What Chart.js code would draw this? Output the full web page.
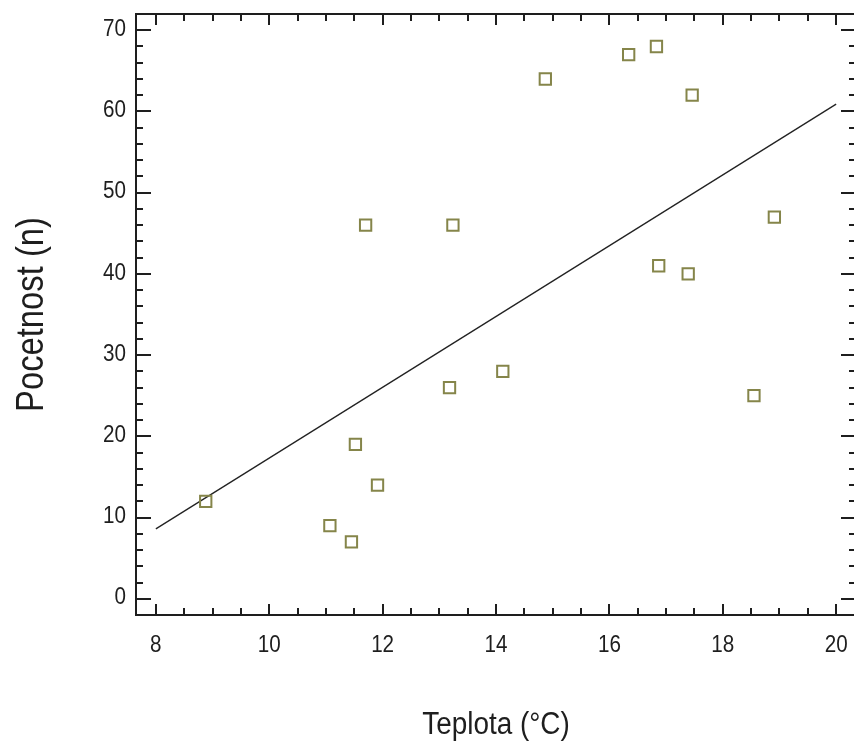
<!DOCTYPE html>
<html>
<head>
<meta charset="utf-8">
<title>Pocetnost vs. Teplota</title>
<script src="https://cdn.jsdelivr.net/npm/chart.js@4"></script>
<style>
  html, body { margin: 0; padding: 0; background: #fff; overflow: hidden; }
  #wrap { width: 866px; height: 742px; }
</style>
</head>
<body>
<div id="wrap"><canvas id="c" width="866" height="742"></canvas></div>
<script>
// Observations: temperature (°C) and count (n)
const temps  = [8.88, 11.07, 11.45, 11.52, 11.91, 11.70, 13.24, 13.18, 14.12, 14.87, 16.34, 16.83, 17.46, 16.87, 17.39, 18.91, 18.55];
const counts = [12, 9, 7, 19, 14, 46, 46, 26, 28, 64, 67, 68, 62, 41, 40, 47, 25];

// Fitted regression line end points
const fitX = [8, 20];
const fitY = [8.6, 60.9];

// Axis ticks
const xTicks = [8, 10, 12, 14, 16, 18, 20];
const yTicks = [0, 10, 20, 30, 40, 50, 60, 70];

const points = temps.map((t, i) => ({ x: t, y: counts[i] }));
const fitLine = fitX.map((t, i) => ({ x: t, y: fitY[i] }));

const INK = '#1e1e1e';
const FONT = '"Liberation Sans", Arial, sans-serif';

function squeezedText(ctx, text, x, y, size, sx, align, baseline, angle) {
  ctx.save();
  ctx.translate(x, y);
  if (angle) ctx.rotate(angle);
  ctx.scale(sx, 1);
  ctx.font = size + 'px ' + FONT;
  ctx.fillStyle = INK;
  ctx.textAlign = align;
  ctx.textBaseline = baseline;
  ctx.fillText(text, 0, 0);
  ctx.restore();
}

// Framed axes with inward ticks, labels and titles
const frameAxes = {
  id: 'frameAxes',
  afterDraw(chart) {
    const { ctx, chartArea: a, scales: { x, y } } = chart;
    ctx.save();
    ctx.strokeStyle = INK;
    ctx.lineWidth = 2;
    ctx.lineCap = 'butt';

    // box
    ctx.strokeRect(a.left, a.top, a.right - a.left, a.bottom - a.top);

    ctx.beginPath();
    // x ticks: majors every 2, minors every 0.5
    for (let v = xTicks[0]; v <= xTicks[xTicks.length - 1] + 1e-9; v += 0.5) {
      const px = Math.round(x.getPixelForValue(v));
      const major = xTicks.some(t => Math.abs(t - v) < 1e-9);
      const len = major ? 11 : 7;
      ctx.moveTo(px, a.bottom); ctx.lineTo(px, a.bottom - len);
      ctx.moveTo(px, a.top); ctx.lineTo(px, a.top + len);
    }
    // y ticks: majors every 10, minors every 2
    for (let v = yTicks[0]; v <= yTicks[yTicks.length - 1] + 1e-9; v += 2) {
      const py = Math.round(y.getPixelForValue(v));
      const major = yTicks.some(t => Math.abs(t - v) < 1e-9);
      const len = major ? 15 : 7;
      ctx.moveTo(a.left, py); ctx.lineTo(a.left + len, py);
      ctx.moveTo(a.right, py); ctx.lineTo(a.right - len, py);
    }
    ctx.stroke();
    ctx.restore();

    // tick labels
    xTicks.forEach(v => {
      squeezedText(ctx, String(v), x.getPixelForValue(v), a.bottom + 37, 24, 0.86, 'center', 'alphabetic');
    });
    yTicks.forEach(v => {
      squeezedText(ctx, String(v), a.left - 10, y.getPixelForValue(v) - 1, 24, 0.86, 'right', 'middle');
    });

    // axis titles
    const cx = (a.left + a.right) / 2;
    const cy = (a.top + a.bottom) / 2;
    squeezedText(ctx, 'Teplota (°C)', cx, 734, 31, 0.9, 'center', 'alphabetic');
    squeezedText(ctx, 'Pocetnost (n)', 43, cy, 39, 0.84, 'center', 'alphabetic', -Math.PI / 2);
  }
};

new Chart(document.getElementById('c'), {
  type: 'scatter',
  data: {
    datasets: [
      {
        label: 'Pocetnost',
        data: points,
        pointStyle: 'rect',
        pointRadius: 8,
        pointHoverRadius: 8,
        pointBorderWidth: 2,
        borderColor: '#85854a',
        backgroundColor: 'rgba(255,255,255,0)',
        order: 1
      },
      {
        type: 'line',
        label: 'Regrese',
        data: fitLine,
        borderColor: '#222',
        borderWidth: 1.3,
        pointRadius: 0,
        fill: false,
        order: 2
      }
    ]
  },
  options: {
    responsive: false,
    animation: false,
    events: [],
    layout: { padding: { left: 136, top: 14, right: 7, bottom: 127 } },
    plugins: { legend: { display: false }, tooltip: { enabled: false } },
    scales: {
      x: { type: 'linear', min: 7.65, max: 20.35, display: false },
      y: { type: 'linear', min: -2, max: 72, display: false }
    }
  },
  plugins: [frameAxes]
});
</script>
</body>
</html>
